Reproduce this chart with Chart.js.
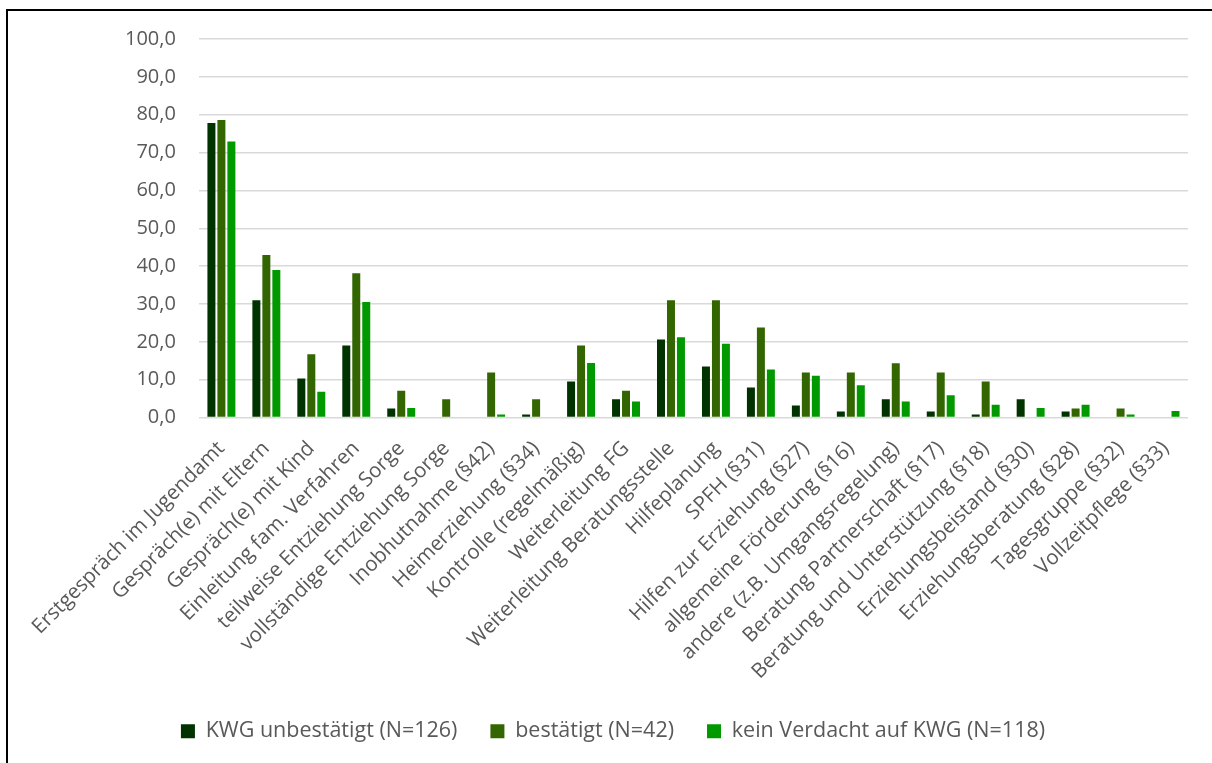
<!DOCTYPE html>
<html lang="de">
<head>
<meta charset="utf-8">
<title>Maßnahmen nach KWG-Status</title>
<script src="https://cdn.jsdelivr.net/npm/chart.js@4/dist/chart.umd.min.js"></script>
<style>
    html, body {
        margin: 0;
        padding: 0;
        background: #ffffff;
        overflow: hidden;
    }
    #wrap {
        position: relative;
        width: 1212px;
        height: 763px;
    }
    /* Rahmen links und oben wie im Original */
    #frame {
        position: absolute;
        left: 6px;
        top: 9px;
        right: -10px;
        bottom: -10px;
        border-left: 2px solid #000;
        border-top: 2px solid #000;
        pointer-events: none;
    }
</style>
</head>
<body>
<div id="wrap">
    <canvas id="myChart"></canvas>
    <div id="frame"></div>
</div>
<script>
// Kategorien (x-Achse)
const categories = [
    "Erstgespräch im Jugendamt",
    "Gespräch(e) mit Eltern",
    "Gespräch(e) mit Kind",
    "Einleitung fam. Verfahren",
    "teilweise Entziehung Sorge",
    "vollständige Entziehung Sorge",
    "Inobhutnahme (§42)",
    "Heimerziehung (§34)",
    "Kontrolle (regelmäßig)",
    "Weiterleitung FG",
    "Weiterleitung Beratungsstelle",
    "Hilfeplanung",
    "SPFH (§31)",
    "Hilfen zur Erziehung (§27)",
    "allgemeine Förderung (§16)",
    "andere (z.B. Umgangsregelung)",
    "Beratung Partnerschaft (§17)",
    "Beratung und Unterstützung (§18)",
    "Erziehungsbeistand (§30)",
    "Erziehungsberatung (§28)",
    "Tagesgruppe (§32)",
    "Vollzeitpflege (§33)",
];

// Serien (Prozent)
const seriesLabels = ["KWG unbestätigt (N=126)", "bestätigt (N=42)", "kein Verdacht auf KWG (N=118)"];
const kwgUnbestaetigt = [77.8, 31.0, 10.3, 19.0, 2.4, 0, 0, 0.8, 9.5, 4.8, 20.6, 13.5, 7.9, 3.2, 1.6, 4.8, 1.6, 0.8, 4.8, 1.6, 0, 0];
const bestaetigt = [78.6, 42.9, 16.7, 38.1, 7.1, 4.8, 11.9, 4.8, 19.0, 7.1, 31.0, 31.0, 23.8, 11.9, 11.9, 14.3, 11.9, 9.5, 0, 2.4, 2.4, 0];
const keinVerdacht = [72.9, 39.0, 6.8, 30.5, 2.5, 0, 0.8, 0, 14.4, 4.2, 21.2, 19.5, 12.7, 11.0, 8.5, 4.2, 5.9, 3.4, 2.5, 3.4, 0.8, 1.7];

// y-Achse
const yMin = 0;
const yMax = 100;
const yStep = 10;

const colors = ["#003300", "#336600", "#009900"];
const textColor = "#595959";
const fontFamily = "'Open Sans', 'Noto Sans', sans-serif";

// Legende etwas nach links schieben (wie im Original)
const legendShift = {
    id: "legendShift",
    afterLayout(chart) {
        if (!chart.legend) return;
        chart.legend.left -= 32;
        chart.legend.right -= 32;
    },
};

function initChart() {
    const ctx = document.getElementById("myChart");
    if (!ctx) return;

    const seriesValues = [kwgUnbestaetigt, bestaetigt, keinVerdacht];

    const data = {
        labels: categories,
        datasets: seriesValues.map((values, i) => ({
            label: seriesLabels[i],
            data: values,
            backgroundColor: colors[i],
            borderWidth: 0,
            barPercentage: 0.8,
            categoryPercentage: 0.666,
        })),
    };

    const config = {
        type: "bar",
        data: data,
        options: {
            responsive: true,
            maintainAspectRatio: false,
            devicePixelRatio: 1,
            animation: false,
            layout: {
                padding: { left: 102, right: 24, top: 39, bottom: 11 },
            },
            plugins: {
                legend: {
                    position: "bottom",
                    labels: {
                        color: textColor,
                        font: { family: fontFamily, size: 21.5 },
                        boxWidth: 14,
                        boxHeight: 14,
                        padding: 33,
                    },
                },
                tooltip: { enabled: false },
            },
            scales: {
                y: {
                    min: yMin,
                    max: yMax,
                    border: { display: false },
                    grid: {
                        color: "#d9d9d9",
                        lineWidth: 1.5,
                        drawTicks: false,
                    },
                    ticks: {
                        stepSize: yStep,
                        padding: 23,
                        color: textColor,
                        font: { family: fontFamily, size: 20 },
                        callback: (v) => v.toFixed(1).replace(".", ","),
                    },
                },
                x: {
                    border: { display: false },
                    grid: { display: false, drawTicks: false },
                    ticks: {
                        autoSkip: false,
                        minRotation: 45,
                        maxRotation: 45,
                        padding: 19,
                        color: textColor,
                        font: { family: fontFamily, size: 20.5 },
                    },
                    afterFit: (scale) => {
                        // lange gedrehte Beschriftungen sollen den Plotbereich nicht verschieben
                        scale.height = 270;
                        scale.paddingLeft = 0;
                        scale.paddingRight = 0;
                    },
                },
            },
        },
        plugins: [legendShift],
    };

    return new Chart(ctx, config);
}

initChart();
</script>
</body>
</html>
